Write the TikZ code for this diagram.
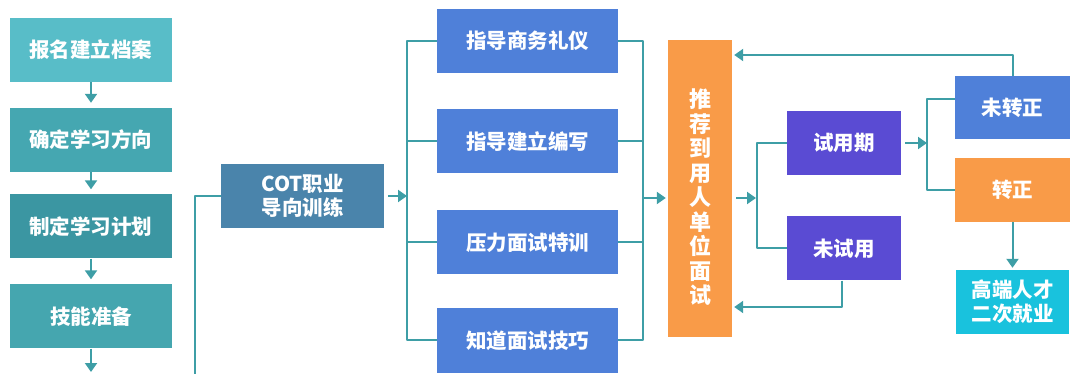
\documentclass[tikz,border=0pt]{standalone}
\usepackage{fontspec}
\setmainfont{Noto Sans CJK SC}
\usetikzlibrary{arrows.meta}
\definecolor{tealA}{HTML}{58BDC8}
\definecolor{tealB}{HTML}{45A7B1}
\definecolor{tealC}{HTML}{3B96A2}
\definecolor{tealD}{HTML}{45A6AF}
\definecolor{steel}{HTML}{4A84AB}
\definecolor{blueb}{HTML}{4F80D9}
\definecolor{purp}{HTML}{5A4BD3}
\definecolor{orng}{HTML}{F99B48}
\definecolor{cyanb}{HTML}{19C2DD}
\definecolor{wirec}{HTML}{3E9EA6}
\begin{document}
\begin{tikzpicture}[x=1pt,y=-1pt,line join=round,>={Triangle[width=12pt,length=9pt]}]
	\tikzset{every node/.style={text=white,inner sep=0pt,font=\fontsize{20.5}{24}\selectfont\bfseries}}
	\tikzset{box/.style={fill=#1,minimum height=64pt,align=center}}
	\tikzset{wire/.style={draw=wirec,line width=2pt}}
	\useasboundingbox (0,0) rectangle (1080,374);
	% left column
	\foreach \t/\y/\c [count=\i] in {报名建立档案/50/tealA,确定学习方向/140/tealB,制定学习计划/226.5/tealC,技能准备/316.5/tealD}
	\node[box=\c,minimum width=162pt] (s\i) at (91,\y) {\t};
	\foreach \i/\j in {1/2,2/3,3/4}
	\draw[wire,->,shorten >=5pt] (s\i) -- (s\j);
	\coordinate (sEnd) at (91,372);
	\draw[wire,->] (s4) -- (sEnd);
	% training
	\node[box=steel,minimum width=163pt] (cot) at (302.5,196) {COT职业\\导向训练};
	\coordinate (lb) at (195,374);
	\draw[wire] (lb) |- (cot.west);
	\foreach \t/\y [count=\i] in {指导商务礼仪/41,指导建立编写/141.5,压力面试特训/242.5,知道面试技巧/340.5}
	\node[box=blueb,minimum width=181pt] (g\i) at (527.5,\y) {\t};
	\coordinate (bl) at (407,196);
	\coordinate (br) at (643,198);
	\draw[wire,->,shorten <=4pt] (cot.east) -- (bl);
	\draw[wire] (g1.west) -| (g4.west -| bl) -- (g4.west);
	\draw[wire] (g1.east) -| (g4.east -| br) -- (g4.east);
	\foreach \i in {2,3} {
		\draw[wire] (g\i.west) -- (g\i.west -| bl);
		\draw[wire] (g\i.east) -- (g\i.east -| br);
	}
	% interview
	\node[box=orng,minimum width=64pt,minimum height=297pt,font=\fontsize{22}{24.5}\selectfont\bfseries] (rec) at (700,188.5) {\rule{0pt}{36pt}推\\荐\\到\\用\\人\\单\\位\\面\\试};
	\draw[wire,->,shorten >=2pt] (br) -- (br -| rec.west);
	\node[box=purp,minimum width=114pt] (t1) at (844,143) {试用期};
	\node[box=purp,minimum width=114pt] (t2) at (844,248.5) {未试用};
	\coordinate (bm) at (757,198);
	\draw[wire,->,shorten <=4pt,shorten >=1pt] (bm -| rec.east) -- (bm);
	\draw[wire] (t1.west) -| (bm) |- (t2.west);
	\coordinate (back) at (842,307);
	\draw[wire,->,shorten >=2pt] (t2.south -| back) -- (back) -- (back -| rec.east);
	% result
	\node[box=blueb,minimum width=115pt,minimum height=63pt] (z1) at (1012.5,107.5) {未转正};
	\node[box=orng,minimum width=115pt] (z2) at (1012.5,190) {转正};
	\node[box=cyanb,minimum width=113pt] (z3) at (1012.5,302) {高端人才\\二次就业};
	\coordinate (bk) at (927,143);
	\draw[wire,->,shorten <=4pt] (t1.east) -- (bk);
	\draw[wire] ([yshift=8pt]z1.west) -| (bk) |- (z2.west);
	\draw[wire,->,shorten >=2pt] (z2) -- (z3);
	\coordinate (top) at (1012.5,55);
	\draw[wire,->,shorten >=2pt] (z1.north) -- (top) -- (top -| rec.east);
\end{tikzpicture}
\end{document}
